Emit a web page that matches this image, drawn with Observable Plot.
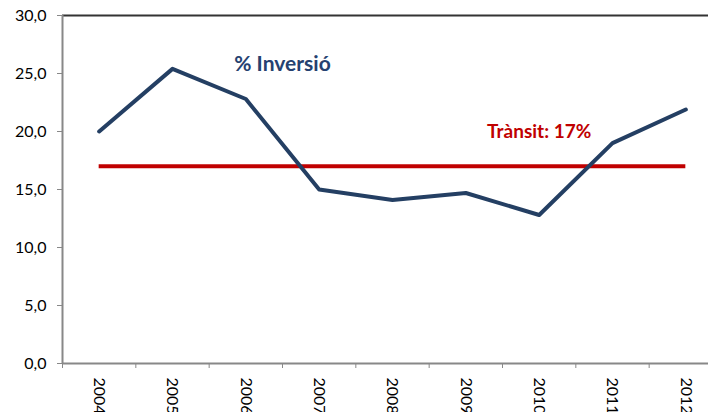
<!DOCTYPE html>
<html>
<head>
<meta charset="utf-8">
<script src="https://cdn.jsdelivr.net/npm/d3@7"></script>
<script src="https://cdn.jsdelivr.net/npm/@observablehq/plot@0.6"></script>
<style>
  html, body { margin: 0; padding: 0; background: #fff; }
  svg { display: block; }
</style>
</head>
<body>
<div id="chart"></div>
<script>
const years = ["2004", "2005", "2006", "2007", "2008", "2009", "2010", "2011", "2012"];
const inversio = [20.0, 25.4, 22.8, 15.0, 14.1, 14.7, 12.8, 19.0, 21.9];
const transit = 17;
const yTicks = [0, 5, 10, 15, 20, 25, 30];
const seriesLabel = {text: "% Inversió", pos: 2.5, value: 25.8};
const transitLabel = {text: "Trànsit: 17%", pos: 6.0, value: 20.0};

const data = years.map((y, i) => ({i, year: y, value: inversio[i]}));
const bandEdges = d3.range(-0.5, years.length, 1);
const fmt = d => d3.format(".1f")(d).replace(".", ",");

const chart = Plot.plot({
  width: 708,
  height: 412,
  marginTop: 15,
  marginBottom: 49,
  marginLeft: 62,
  marginRight: 0,
  style: {fontFamily: "Lato, sans-serif", background: "#fff"},
  x: {type: "linear", domain: [-0.5, years.length - 0.5], range: [62, 722]},
  y: {domain: [0, 30], range: [363, 15]},
  marks: [
    Plot.ruleY([30], {stroke: "#333", strokeWidth: 2}),
    Plot.axisY(yTicks, {tickSize: 5, tickPadding: 11, tickFormat: fmt, fontSize: 16, stroke: "#888", fill: "#000", label: null}),
    Plot.ruleX([-0.5], {stroke: "#888", strokeWidth: 2}),
    Plot.ruleY([0], {stroke: "#888", strokeWidth: 2}),
    Plot.axisX(bandEdges, {tickSize: 5, text: null, stroke: "#888", label: null}),
    Plot.axisX(d3.range(years.length), {tickSize: 0, tickPadding: 14, tickRotate: 90, tickFormat: i => years[i], fontSize: 16, fill: "#000", label: null}),
    Plot.ruleY([transit], {x1: 0, x2: years.length - 1, stroke: "#C00000", strokeWidth: 4}),
    Plot.line(data, {x: "i", y: "value", stroke: "#243F63", strokeWidth: 4, strokeLinejoin: "round", strokeLinecap: "round"}),
    Plot.text([seriesLabel], {x: "pos", y: "value", text: "text", fill: "#254170", fontSize: 21, fontWeight: "bold"}),
    Plot.text([transitLabel], {x: "pos", y: "value", text: "text", fill: "#C00000", fontSize: 19, fontWeight: "bold"})
  ]
});
document.getElementById("chart").appendChild(chart);
</script>
</body>
</html>
